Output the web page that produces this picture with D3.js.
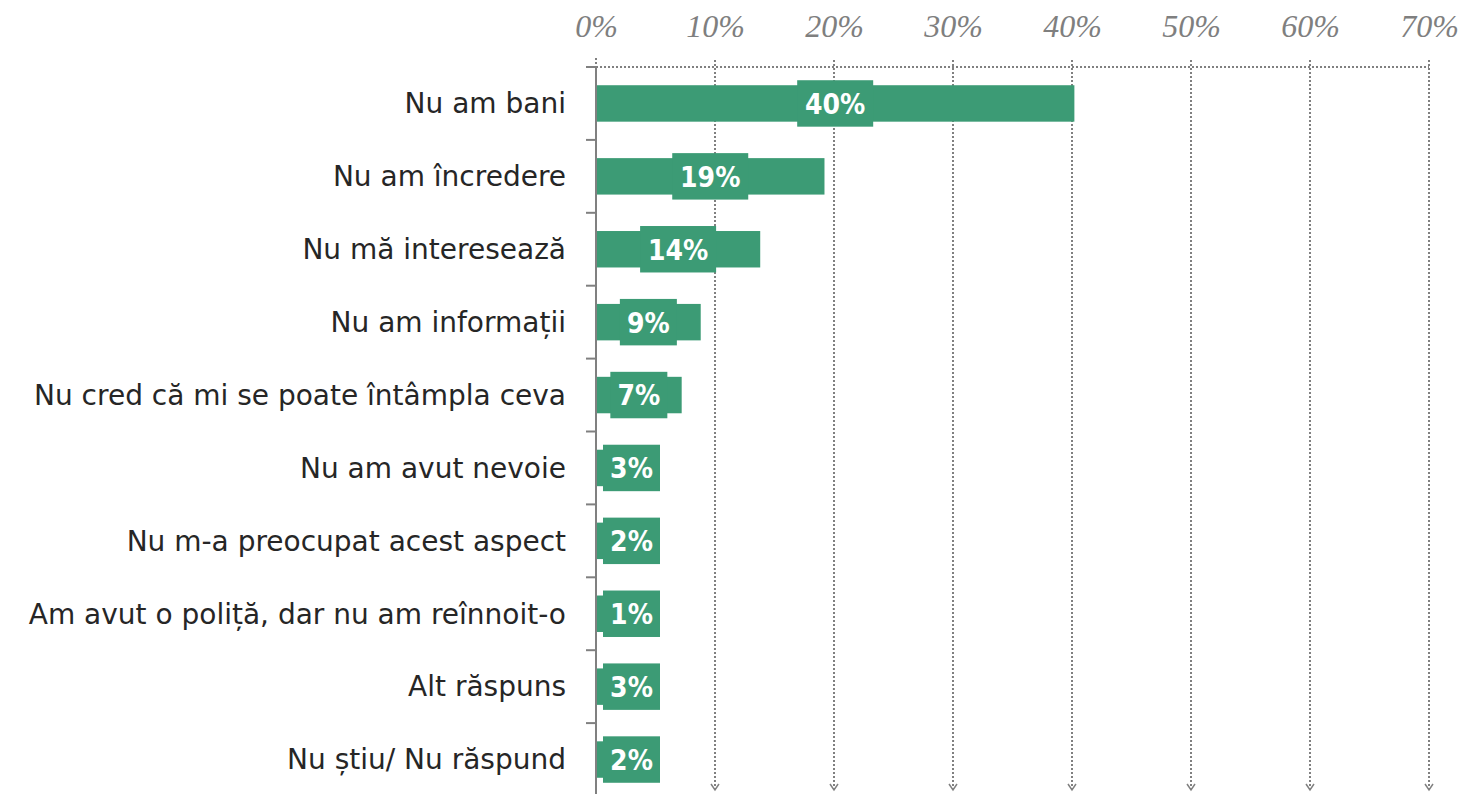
<!DOCTYPE html>
<html><head><meta charset="utf-8">
<script src="https://cdn.jsdelivr.net/npm/d3@7"></script>
<style>html,body{margin:0;padding:0;background:#fff;}svg{display:block;}</style>
</head><body>
<svg id="chart" width="1461" height="794"></svg>
<script>
const categories = ["Nu am bani","Nu am încredere","Nu mă interesează","Nu am informații","Nu cred că mi se poate întâmpla ceva","Nu am avut nevoie","Nu m-a preocupat acest aspect","Am avut o poliță, dar nu am reînnoit-o","Alt răspuns","Nu știu/ Nu răspund"];
const values = [40.2, 19.2, 13.8, 8.8, 7.2, 3, 2, 1, 3, 2];
const valueLabels = ["40%","19%","14%","9%","7%","3%","2%","1%","3%","2%"];
const tickValues = [0,10,20,30,40,50,60,70];

const svg = d3.select("#chart");
const x0 = 596, x1 = 1429, yTop = 67, yBot = 796;
const x = d3.scaleLinear().domain([0,70]).range([x0,x1]);
const y = d3.scaleBand().domain(categories).range([yTop,yBot]).paddingInner(0.5).paddingOuter(0.25);
const green = "#3c9b75", grey = "#808080";

// gridlines
const grid = svg.append("g");
tickValues.forEach(t => {
  if (t === 0) return;
  grid.append("line").attr("x1",x(t)).attr("x2",x(t)).attr("y1",60).attr("y2",789)
    .attr("stroke",grey).attr("stroke-width",2).attr("stroke-dasharray","2,2");
  grid.append("path").attr("d",`M${x(t)-4},${784} L${x(t)},${790} L${x(t)+4},${784}`)
    .attr("fill","none").attr("stroke",grey).attr("stroke-width",1.5);
});
grid.append("line").attr("x1",x0).attr("x2",x(70)).attr("y1",yTop).attr("y2",yTop)
  .attr("stroke",grey).attr("stroke-width",2).attr("stroke-dasharray","2,2");
grid.append("line").attr("x1",x0).attr("x2",x0).attr("y1",58).attr("y2",yTop)
  .attr("stroke",grey).attr("stroke-width",2).attr("stroke-dasharray","2,2");

// top axis labels
const xAxis = d3.axisTop(x).tickValues(tickValues).tickFormat(d => d + "%").tickSize(0).tickPadding(0);
const gx = svg.append("g").attr("transform",`translate(0,37)`).call(xAxis);
gx.select(".domain").remove();
gx.selectAll("text").attr("font-family","'Liberation Serif', serif").attr("font-style","italic")
  .attr("font-size",32).attr("fill","#7f7f7f").attr("dy",0);

// left axis
const gy = svg.append("g");
gy.append("line").attr("x1",x0).attr("x2",x0).attr("y1",yTop).attr("y2",794).attr("stroke",grey).attr("stroke-width",2);
const step = (yBot - yTop)/categories.length;
d3.range(categories.length+1).forEach(i => {
  const yy = yTop + i*step;
  gy.append("line").attr("x1",x0-10).attr("x2",x0).attr("y1",yy).attr("y2",yy).attr("stroke",grey).attr("stroke-width",2);
});
const yAxis = d3.axisLeft(y).tickSize(0).tickPadding(0);
const gya = svg.append("g").attr("transform",`translate(566,0)`).call(yAxis);
gya.select(".domain").remove();
gya.selectAll("text").attr("font-family","'DejaVu Sans', sans-serif").attr("font-size",28).attr("fill","#262626").attr("dy","0.35em");

// bars
svg.append("g").selectAll("rect").data(categories).join("rect")
  .attr("x",x0+1).attr("y",d=>y(d)).attr("width",(d,i)=>x(values[i])-x0-1).attr("height",y.bandwidth()).attr("fill",green);

// labels
const lg = svg.append("g");
categories.forEach((c,i) => {
  const w = valueLabels[i].length === 3 ? 76 : 57;
  let cx = (x0 + x(values[i]))/2;
  let left = cx - w/2;
  if (left < x0 + 7) left = x0 + 7;
  lg.append("rect").attr("x",left).attr("y",y(c)-5).attr("width",w).attr("height",y.bandwidth()+10).attr("fill",green);
  lg.append("text").attr("x",left+w/2).attr("y",y(c)+y.bandwidth()/2).attr("dy","0.37em")
    .attr("text-anchor","middle").attr("font-family","'DejaVu Sans Condensed', 'DejaVu Sans', sans-serif").attr("font-weight","bold")
    .attr("font-size",28).attr("fill","#fff").text(valueLabels[i]);
});
</script>
</body></html>
